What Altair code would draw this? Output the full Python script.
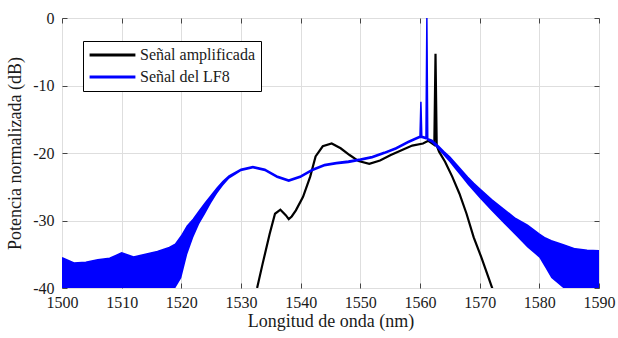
import altair as alt
import pandas as pd

# ---------------- data ----------------
series = ["Señal amplificada", "Señal del LF8"]
x_ticks = [1500, 1510, 1520, 1530, 1540, 1550, 1560, 1570, 1580, 1590]
y_ticks = [-40, -30, -20, -10, 0]

# Blue trace (LF8): wavelength, lower and upper envelope of the noisy trace
lam_b = [1500, 1502, 1504, 1506, 1508, 1510, 1512, 1514, 1516, 1518, 1519,
         1520, 1521, 1522, 1523, 1524, 1525, 1526, 1527, 1528, 1530, 1532,
         1534, 1536, 1538, 1540, 1542, 1544, 1546, 1548, 1550, 1552, 1554,
         1556, 1558, 1559.5, 1560.0, 1560.15, 1560.3, 1561.0, 1561.15, 1561.3,
         1562, 1563, 1564, 1565, 1566, 1567, 1568, 1569, 1570, 1572, 1574,
         1576, 1578, 1580, 1581, 1582, 1584, 1586, 1588, 1590]
blue_hi = [-35.5, -36.3, -36.2, -35.8, -35.6, -34.8, -35.4, -35.0, -34.6, -34.0, -33.5,
           -32.3, -30.8, -29.8, -28.6, -27.4, -26.3, -25.2, -24.2, -23.4, -22.4, -22.0,
           -22.4, -23.4, -24.0, -23.4, -22.4, -21.7, -21.4, -21.2, -20.9, -20.5, -19.9,
           -19.2, -18.3, -17.7, -17.5, -12.4, -17.5, -17.7, 0.0, -17.9,
           -18.1, -18.9, -19.8, -20.6, -21.6, -22.6, -23.6, -24.5, -25.3, -26.9, -28.3,
           -29.7, -30.7, -32.0, -32.6, -33.0, -33.6, -34.2, -34.4, -34.5]
blue_lo = [-40, -40, -40, -40, -40, -40, -40, -40, -40, -40, -40,
           -38.5, -35.0, -32.5, -30.5, -29.0, -27.4, -26.0, -24.8, -23.8, -22.7, -22.3,
           -22.7, -23.7, -24.3, -23.7, -22.7, -22.0, -21.7, -21.5, -21.2, -20.8, -20.2,
           -19.5, -18.6, -18.0, -17.8, -17.8, -17.8, -18.0, -18.0, -18.2,
           -18.5, -19.4, -20.4, -21.4, -22.5, -23.6, -24.7, -25.7, -26.7, -28.6, -30.4,
           -32.2, -34.0, -35.5, -37.0, -38.5, -40, -40, -40, -40]

# Black trace (amplified signal)
lam_k = [1532.3, 1532.7, 1533.6, 1534.8, 1535.7, 1536.6, 1537.5, 1538.0, 1538.5,
         1539.2, 1540.4, 1541.6, 1542.5, 1543.7, 1545.2, 1546.7, 1548.2, 1549.7,
         1551.5, 1553.3, 1555.1, 1556.9, 1558.7, 1560.5, 1561.4, 1562.4, 1562.6,
         1562.8, 1563.2, 1564.2, 1565.4, 1566.6, 1567.8, 1569.0, 1570.3, 1571.5,
         1572.1, 1572.4]
pow_k = [-41.0, -40.0, -36.5, -32.0, -29.0, -28.4, -29.2, -29.8, -29.4,
         -28.5, -26.5, -23.5, -20.5, -19.0, -18.6, -19.3, -20.3, -21.2,
         -21.6, -21.1, -20.3, -19.6, -18.9, -18.6, -18.2, -18.8, -5.3,
         -18.9, -19.8, -21.3, -23.5, -26.0, -29.0, -32.5, -35.5, -38.5,
         -40.0, -41.0]

df_b = pd.DataFrame({"lam": lam_b, "lo": blue_lo, "hi": blue_hi, "serie": series[1]})
df_k = pd.DataFrame({"lam": lam_k, "p": pow_k, "serie": series[0]})

# ---------------- styling ----------------
FONT = "Liberation Serif"
TXT = "#1a1a1a"
GRID = "#dedede"
TICK = "#444444"

xscale = alt.Scale(domain=[1500, 1590], nice=False, zero=False)
yscale = alt.Scale(domain=[-40, 0], nice=False, zero=False)

color_scale = alt.Scale(domain=series, range=["#000000", "#0000ff"])
legend = alt.Legend(
    title=None, orient="none", legendX=21, legendY=23,
    symbolType="stroke", symbolSize=2100, symbolStrokeWidth=3,
    labelFont=FONT, labelFontSize=16, labelColor=TXT, labelOffset=3,
    strokeColor="#000000", fillColor="#ffffff", padding=5,
    rowPadding=4, clipHeight=18,
)

common = dict(labelFont=FONT, titleFont=FONT, labelFontSize=16, titleFontSize=18,
              labelColor=TXT, titleColor=TXT, titleFontWeight="normal",
              offset=-5, tickSize=5, domain=False, tickColor=TICK,
              labelFlush=False, labelOverlap=False, labelExpr="'' + datum.value")

x_bottom = alt.Axis(values=x_ticks, orient="bottom", title="Longitud de onda (nm)",
                    grid=True, gridColor=GRID, labelPadding=6, titlePadding=2, **common)
y_left = alt.Axis(values=y_ticks, orient="left", title="Potencia normalizada (dB)",
                  grid=True, gridColor=GRID, labelPadding=8, titlePadding=8, **common)
x_top = alt.Axis(values=x_ticks, orient="top", title=None, labels=False, grid=False, **common)
y_right = alt.Axis(values=y_ticks, orient="right", title=None, labels=False, grid=False, **common)

black = alt.Chart(df_k).mark_line(strokeWidth=2.2, clip=True).encode(
    x=alt.X("lam:Q", scale=xscale, axis=x_bottom),
    y=alt.Y("p:Q", scale=yscale, axis=y_left),
    color=alt.Color("serie:N", scale=color_scale, legend=legend),
)

band = alt.Chart(df_b).mark_area(clip=True, color="#0000ff", opacity=1).encode(
    x=alt.X("lam:Q", scale=xscale, axis=None),
    y=alt.Y("lo:Q", scale=yscale, axis=None),
    y2="hi:Q",
)

blue = alt.Chart(df_b).mark_line(strokeWidth=1.5, clip=True).encode(
    x=alt.X("lam:Q", scale=xscale, axis=x_top),
    y=alt.Y("hi:Q", scale=yscale, axis=y_right),
    color=alt.Color("serie:N", scale=color_scale, legend=legend),
)

chart = alt.layer(black, band, blue).resolve_axis(
    x="independent", y="independent"
).properties(
    width=537, height=270,
    autosize=alt.AutoSizeParams(type="none"),
    padding={"left": 62, "top": 18, "right": 19, "bottom": 50},
).configure_view(
    stroke="#555555", strokeWidth=1
).configure(background="white", font=FONT)

chart.save("out.html", embed_options={"renderer": "svg", "actions": False})
